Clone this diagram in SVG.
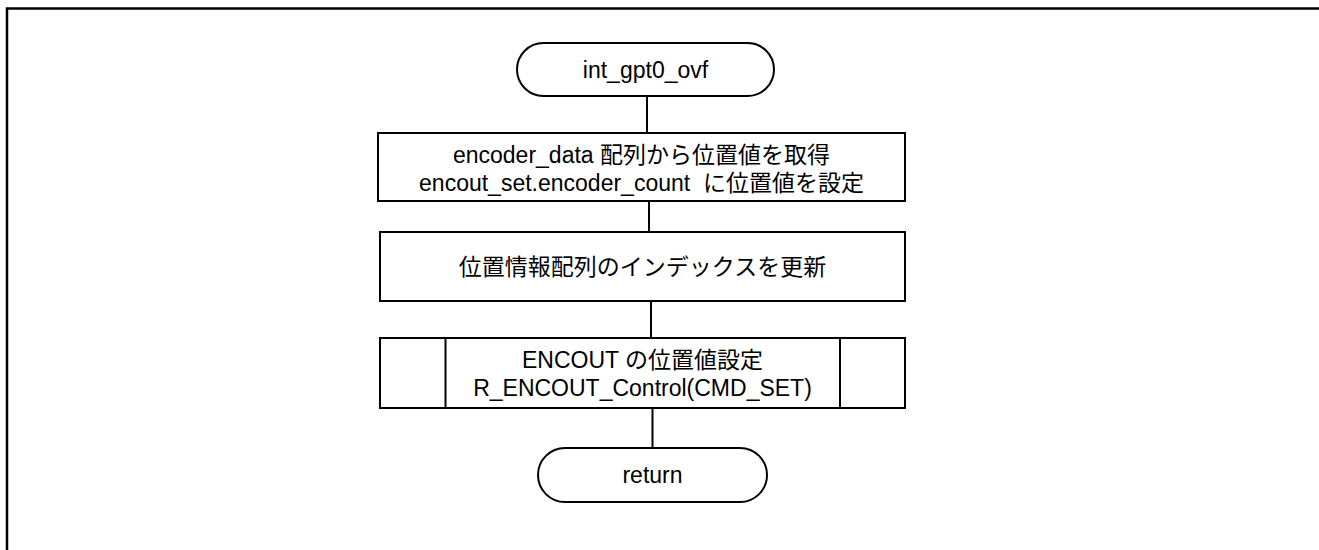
<svg xmlns="http://www.w3.org/2000/svg" width="1319" height="550" viewBox="0 0 1319 550">
<style>
.s{fill:#fff;stroke:#000;stroke-width:2}
.c{fill:none;stroke:#000;stroke-width:2}
.t{font-family:"Liberation Sans","Noto Sans CJK JP",sans-serif;font-size:23px;fill:#000;text-anchor:middle;dominant-baseline:central}
</style>
<rect width="1319" height="550" fill="#fff"/>
<path d="M7,555 V8.5 H1325" fill="none" stroke="#000" stroke-width="2.5"/>
<g id="connectors">
<line class="c" x1="647" y1="96" x2="647" y2="133"/>
<line class="c" x1="649" y1="201" x2="649" y2="232"/>
<line class="c" x1="651" y1="301" x2="651" y2="338"/>
<line class="c" x1="652.5" y1="408" x2="652.5" y2="448"/>
</g>
<g id="start">
<rect class="s" x="517" y="43" width="257" height="53" rx="26.5"/>
<text class="t" x="645.5" y="70">int_gpt0_ovf</text>
</g>
<g id="box1">
<rect class="s" x="378" y="133" width="527" height="68"/>
<text class="t" x="641.5" y="154.5">encoder_data 配列から位置値を取得</text>
<text class="t" x="641.5" y="182.5" xml:space="preserve">encout_set.encoder_count  に位置値を設定</text>
</g>
<g id="box2">
<rect class="s" x="380" y="232" width="525" height="69"/>
<text class="t" x="642.5" y="267">位置情報配列のインデックスを更新</text>
</g>
<g id="box3">
<rect class="s" x="380" y="338" width="525" height="70"/>
<line class="c" x1="445.5" y1="338" x2="445.5" y2="408"/>
<line class="c" x1="840" y1="338" x2="840" y2="408"/>
<text class="t" x="642.5" y="360">ENCOUT の位置値設定</text>
<text class="t" x="642.5" y="388">R_ENCOUT_Control(CMD_SET)</text>
</g>
<g id="return">
<rect class="s" x="538" y="448" width="229" height="54" rx="27"/>
<text class="t" x="652.5" y="475">return</text>
</g>
</svg>
